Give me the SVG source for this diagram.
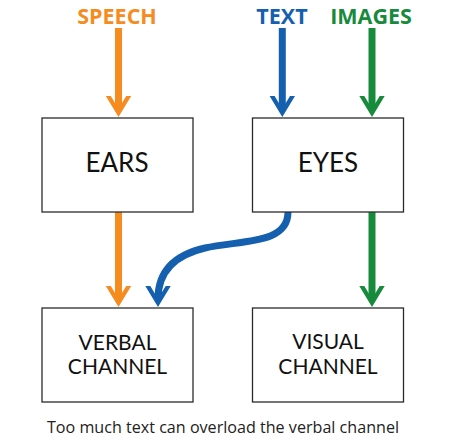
<svg xmlns="http://www.w3.org/2000/svg" width="450" height="446" viewBox="0 0 450 446">
<style>
.box{fill:#fff;stroke:#2b2b2b;stroke-width:1.3}
.big{font-family:Lato,"Liberation Sans",sans-serif;font-size:26px;fill:#111;text-anchor:middle}
.mid{font-family:Lato,"Liberation Sans",sans-serif;font-size:21px;fill:#111;text-anchor:middle}
.lab{font-family:"Open Sans","Liberation Sans",sans-serif;font-weight:700;font-size:21.5px;text-anchor:middle}
.cap{font-family:"Open Sans","Liberation Sans",sans-serif;font-size:15.5px;fill:#222;text-anchor:middle}
.sh{fill:none;stroke-width:7}
.o{stroke:#F68B20}.b{stroke:#1560AE}.g{stroke:#178A3C}
</style>
<defs>
<marker id="ao" markerUnits="userSpaceOnUse" viewBox="-24 -14 26 28" markerWidth="26" markerHeight="28" refX="-8" refY="0" orient="auto"><path d="M0 0L-21 -12.7L-21 -7.7L-8.2 0L-21 7.7L-21 12.7Z" fill="#F68B20"/></marker>
<marker id="ab" markerUnits="userSpaceOnUse" viewBox="-24 -14 26 28" markerWidth="26" markerHeight="28" refX="-8" refY="0" orient="auto"><path d="M0 0L-21 -12.7L-21 -7.7L-8.2 0L-21 7.7L-21 12.7Z" fill="#1560AE"/></marker>
<marker id="ag" markerUnits="userSpaceOnUse" viewBox="-24 -14 26 28" markerWidth="26" markerHeight="28" refX="-8" refY="0" orient="auto"><path d="M0 0L-21 -12.7L-21 -7.7L-8.2 0L-21 7.7L-21 12.7Z" fill="#178A3C"/></marker>
</defs>
<g id="labels">
<text class="lab" x="117" y="23.5" fill="#F68B20">SPEECH</text>
<text class="lab" x="282" y="23.5" fill="#1560AE">TEXT</text>
<text class="lab" x="371" y="23.5" fill="#178A3C">IMAGES</text>
</g>
<g id="connectors">
<path class="sh o" d="M118.5 28V109" marker-end="url(#ao)"/>
<path class="sh b" d="M282.3 28V109" marker-end="url(#ab)"/>
<path class="sh g" d="M372 28V109" marker-end="url(#ag)"/>
<path class="sh o" d="M118.5 212V299" marker-end="url(#ao)"/>
<path class="sh g" d="M372 212V299" marker-end="url(#ag)"/>
<path class="sh b" d="M288 212C288 245 240 240 205 248C170 256 158 275 158 299" marker-end="url(#ab)"/>
</g>
<g id="ears"><rect class="box" x="42" y="118" width="151" height="94"/><text class="big" x="117" y="172">EARS</text></g>
<g id="eyes"><rect class="box" x="252.5" y="118" width="151" height="94"/><text class="big" x="328" y="172">EYES</text></g>
<g id="verbal"><rect class="box" x="42" y="308" width="151" height="94"/><text class="mid" x="117.5" y="350">VERBAL</text><text class="mid" x="117.5" y="374">CHANNEL</text></g>
<g id="visual"><rect class="box" x="252.5" y="308" width="151" height="94"/><text class="mid" x="328" y="349">VISUAL</text><text class="mid" x="328" y="373.5">CHANNEL</text></g>
<text class="cap" x="223" y="433" textLength="352" lengthAdjust="spacingAndGlyphs">Too much text can overload the verbal channel</text>
</svg>
